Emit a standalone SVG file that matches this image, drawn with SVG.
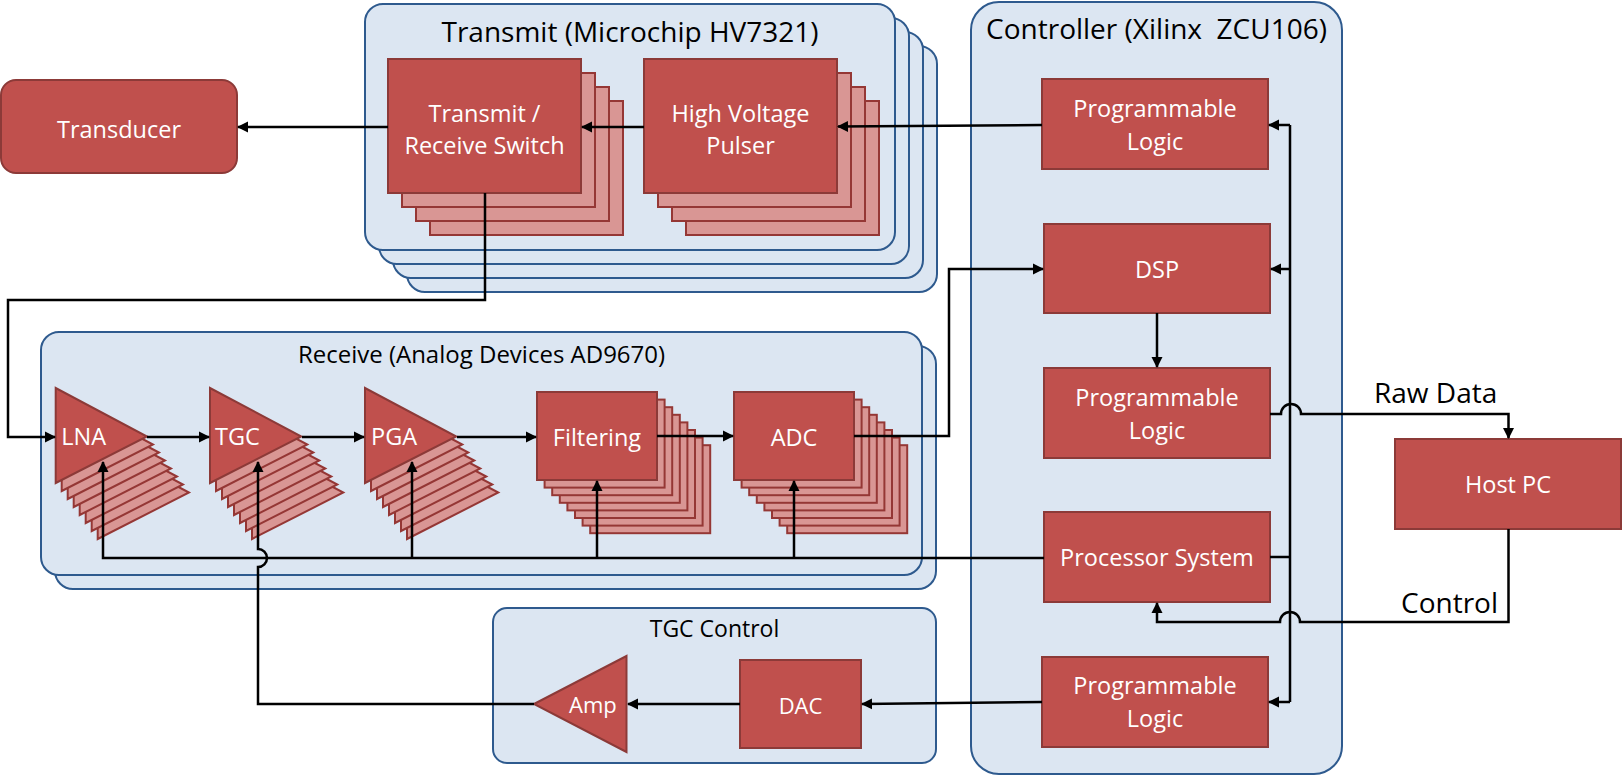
<svg xmlns="http://www.w3.org/2000/svg" xmlns:xlink="http://www.w3.org/1999/xlink" width="1622" height="776" viewBox="0 0 1622 776">
<style>
.ctr{fill:#DCE6F2;stroke:#2E5A8E;stroke-width:2}
.blk{fill:#C0504D;stroke:#8C3A38;stroke-width:2}
.cp{fill:#D99694;stroke:#953735;stroke-width:2}
.wt{fill:#fff;font-family:"Open Sans","Liberation Sans",sans-serif;font-size:23.5px;text-anchor:middle}
.ws{text-anchor:start}
.tt{fill:#000;font-family:"Open Sans","Liberation Sans",sans-serif;font-size:28px;text-anchor:middle}
.ln{fill:none;stroke:#000;stroke-width:2.5}
.ar{marker-end:url(#ah)}
</style>
<defs>
<marker id="ah" markerUnits="userSpaceOnUse" markerWidth="12" markerHeight="12" viewBox="0 0 12 12" refX="10" refY="6" orient="auto"><path d="M0,0.5 L11,6 L0,11.5 z" fill="#000"/></marker>
<polygon id="tri" points="0,0 0,95 91.3,48.5"/>
<rect id="sq" width="120" height="88"/>
<rect id="tb" width="193" height="134"/>
<rect id="cb" width="530" height="246" rx="18"/>
</defs>

<g id="transmit">
<use href="#cb" class="ctr" x="407" y="46"/>
<use href="#cb" class="ctr" x="393" y="32"/>
<use href="#cb" class="ctr" x="379" y="18"/>
<use href="#cb" class="ctr" x="365" y="4"/>
<text class="tt" x="630" y="42">Transmit (Microchip HV7321)</text>
</g>

<g id="transducer">
<rect class="blk" x="1" y="80" width="236" height="93" rx="15"/>
<text class="wt" x="119" y="138">Transducer</text>
</g>

<g id="tr-switch" transform="translate(388,59)">
<use href="#tb" class="cp" x="42" y="42"/>
<use href="#tb" class="cp" x="28" y="28"/>
<use href="#tb" class="cp" x="14" y="14"/>
<use href="#tb" class="blk"/>
<text class="wt" x="96.5" y="63">Transmit /</text>
<text class="wt" x="96.5" y="95">Receive Switch</text>
</g>

<g id="hv-pulser" transform="translate(644,59)">
<use href="#tb" class="cp" x="42" y="42"/>
<use href="#tb" class="cp" x="28" y="28"/>
<use href="#tb" class="cp" x="14" y="14"/>
<use href="#tb" class="blk"/>
<text class="wt" x="96.5" y="63">High Voltage</text>
<text class="wt" x="96.5" y="95">Pulser</text>
</g>

<g id="controller">
<rect class="ctr" x="971" y="2" width="371" height="772" rx="28"/>
<text class="tt" x="1156.5" y="39" xml:space="preserve">Controller (Xilinx  ZCU106)</text>
</g>

<g id="pl1">
<rect class="blk" x="1042" y="79" width="226" height="90"/>
<text class="wt" x="1155" y="117">Programmable</text>
<text class="wt" x="1155" y="150">Logic</text>
</g>

<g id="dsp">
<rect class="blk" x="1044" y="224" width="226" height="89"/>
<text class="wt" x="1157" y="278">DSP</text>
</g>

<g id="pl2">
<rect class="blk" x="1044" y="368" width="226" height="90"/>
<text class="wt" x="1157" y="406">Programmable</text>
<text class="wt" x="1157" y="439">Logic</text>
</g>

<g id="processor-system">
<rect class="blk" x="1044" y="512" width="226" height="90"/>
<text class="wt" x="1157" y="566">Processor System</text>
</g>

<g id="pl3">
<rect class="blk" x="1042" y="657" width="226" height="90"/>
<text class="wt" x="1155" y="694">Programmable</text>
<text class="wt" x="1155" y="727">Logic</text>
</g>

<g id="host-pc">
<rect class="blk" x="1395" y="439" width="226" height="90"/>
<text class="wt" x="1508" y="493">Host PC</text>
</g>

<g id="receive">
<rect class="ctr" x="55" y="346" width="881" height="243" rx="18"/>
<rect class="ctr" x="41" y="332" width="881" height="243" rx="18"/>
<text class="tt" x="481.5" y="363" style="font-size:24px">Receive (Analog Devices AD9670)</text>
</g>

<g id="lna" transform="translate(55.7,388)">
<use href="#tri" class="cp" x="42" y="56"/>
<use href="#tri" class="cp" x="36" y="48"/>
<use href="#tri" class="cp" x="30" y="40"/>
<use href="#tri" class="cp" x="24" y="32"/>
<use href="#tri" class="cp" x="18" y="24"/>
<use href="#tri" class="cp" x="12" y="16"/>
<use href="#tri" class="cp" x="6" y="8"/>
<use href="#tri" class="blk"/>
<text class="wt ws" x="5.5" y="57">LNA</text>
</g>

<g id="tgc" transform="translate(210,388)">
<use href="#tri" class="cp" x="42" y="56"/>
<use href="#tri" class="cp" x="36" y="48"/>
<use href="#tri" class="cp" x="30" y="40"/>
<use href="#tri" class="cp" x="24" y="32"/>
<use href="#tri" class="cp" x="18" y="24"/>
<use href="#tri" class="cp" x="12" y="16"/>
<use href="#tri" class="cp" x="6" y="8"/>
<use href="#tri" class="blk"/>
<text class="wt ws" x="5" y="57">TGC</text>
</g>

<g id="pga" transform="translate(365,388)">
<use href="#tri" class="cp" x="42" y="56"/>
<use href="#tri" class="cp" x="36" y="48"/>
<use href="#tri" class="cp" x="30" y="40"/>
<use href="#tri" class="cp" x="24" y="32"/>
<use href="#tri" class="cp" x="18" y="24"/>
<use href="#tri" class="cp" x="12" y="16"/>
<use href="#tri" class="cp" x="6" y="8"/>
<use href="#tri" class="blk"/>
<text class="wt ws" x="6" y="57">PGA</text>
</g>

<g id="filtering" transform="translate(537,392)">
<use href="#sq" class="cp" x="53.2" y="53.2"/>
<use href="#sq" class="cp" x="45.6" y="45.6"/>
<use href="#sq" class="cp" x="38" y="38"/>
<use href="#sq" class="cp" x="30.4" y="30.4"/>
<use href="#sq" class="cp" x="22.8" y="22.8"/>
<use href="#sq" class="cp" x="15.2" y="15.2"/>
<use href="#sq" class="cp" x="7.6" y="7.6"/>
<use href="#sq" class="blk"/>
<text class="wt" x="60" y="54">Filtering</text>
</g>

<g id="adc" transform="translate(734,392)">
<use href="#sq" class="cp" x="53.2" y="53.2"/>
<use href="#sq" class="cp" x="45.6" y="45.6"/>
<use href="#sq" class="cp" x="38" y="38"/>
<use href="#sq" class="cp" x="30.4" y="30.4"/>
<use href="#sq" class="cp" x="22.8" y="22.8"/>
<use href="#sq" class="cp" x="15.2" y="15.2"/>
<use href="#sq" class="cp" x="7.6" y="7.6"/>
<use href="#sq" class="blk"/>
<text class="wt" x="60" y="54">ADC</text>
</g>

<g id="tgc-control">
<rect class="ctr" x="493" y="608" width="443" height="155" rx="14"/>
<text class="tt" x="714.5" y="637" style="font-size:23px">TGC Control</text>
</g>

<g id="amp">
<polygon class="blk" points="534,704 626.5,656 626.5,752"/>
<text class="wt ws" x="569" y="713" style="font-size:22px">Amp</text>
</g>

<g id="dac">
<rect class="blk" x="740" y="660" width="121" height="88"/>
<text class="wt" x="800.5" y="714" style="font-size:22px">DAC</text>
</g>

<g id="connectors">
<path class="ln ar" d="M388,127 H238"/>
<path class="ln ar" d="M644,127 H582"/>
<path class="ln ar" d="M1042,125 L838,126.5"/>
<path class="ln ar" d="M485,193 V300 H8 V437 H55"/>
<path class="ln ar" d="M147,437 H209"/>
<path class="ln ar" d="M302,437 H364"/>
<path class="ln ar" d="M457,437 H536"/>
<path class="ln ar" d="M657,436 H733"/>
<path class="ln ar" d="M854,436 H949 V269 H1043"/>
<path class="ln ar" d="M1157,313 V367"/>
<path class="ln ar" d="M1270,414 H1281 A10,10 0 0 1 1301,414 H1508.5 V438"/>
<path class="ln ar" d="M1508.5,529 V622 H1300 A10,10 0 0 0 1280,622 H1157 V603"/>
<path class="ln" d="M1270,557 H1290"/>
<path class="ln" d="M1290,125 V702"/>
<path class="ln ar" d="M1290,125 H1269"/>
<path class="ln ar" d="M1290,269 H1271"/>
<path class="ln ar" d="M1290,702 H1269"/>
<path class="ln ar" d="M1044,558 H103 V462"/>
<path class="ln ar" d="M412,558 V462"/>
<path class="ln ar" d="M597,558 V481"/>
<path class="ln ar" d="M794,558 V481"/>
<path class="ln ar" d="M534,704 H258 V567 A9,9 0 0 0 258,549 V462"/>
<path class="ln ar" d="M740,704 H628"/>
<path class="ln ar" d="M1042,702 L862,704"/>
<text class="tt" x="1374" y="403" style="text-anchor:start">Raw Data</text>
<text class="tt" x="1498" y="613" style="text-anchor:end">Control</text>
</g>
</svg>
